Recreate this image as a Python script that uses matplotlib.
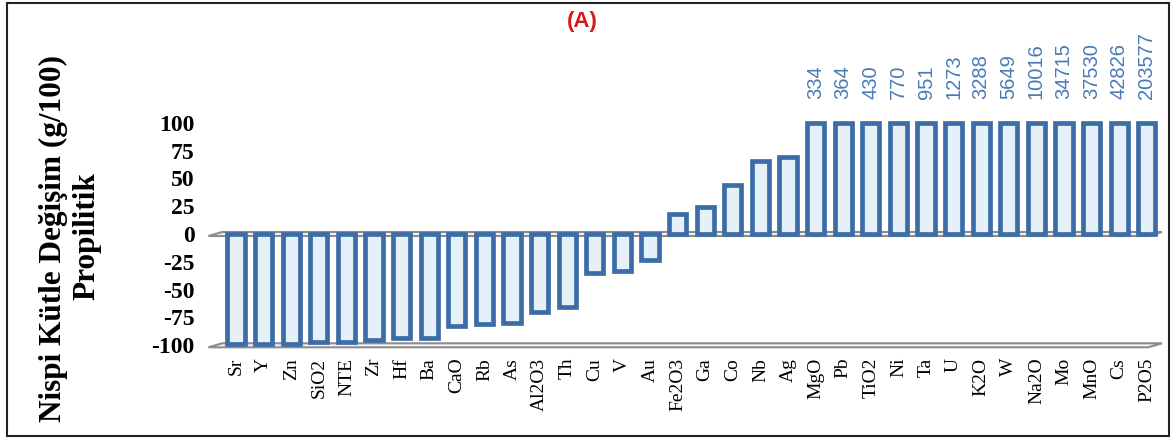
import matplotlib
matplotlib.use('Agg')
import matplotlib.pyplot as plt
from matplotlib.patches import Polygon, Rectangle

elements = ['Sr', 'Y', 'Zn', 'SiO2', 'NTE', 'Zr', 'Hf', 'Ba', 'CaO', 'Rb', 'As', 'Al2O3',
            'Th', 'Cu', 'V', 'Au', 'Fe2O3', 'Ga', 'Co', 'Nb', 'Ag', 'MgO', 'Pb', 'TiO2',
            'Ni', 'Ta', 'U', 'K2O', 'W', 'Na2O', 'Mo', 'MnO', 'Cs', 'P2O5']
change = [-99, -99, -99, -97, -97, -95, -93, -93, -83, -81, -80, -70,
          -66, -35, -33, -23, 18, 24, 44, 66, 69, 100, 100, 100,
          100, 100, 100, 100, 100, 100, 100, 100, 100, 100]
# real values of the bars that are cut at 100
over_labels = ['334', '364', '430', '770', '951', '1273', '3288', '5649',
               '10016', '34715', '37530', '42826', '203577']

W, H = 1171, 441
fig = plt.figure(figsize=(W / 100, H / 100), dpi=100)

# axes placed in pixels: x=0 -> 236px, pitch 27.6px ; y=0 -> 234px, 1.113px/unit
pitch = 27.6
x_lo, x_hi = -1.0, 33.6
left_px = 236 - pitch * (0 - x_lo)
width_px = pitch * (x_hi - x_lo)
y_lo, y_hi = -105, 105
ppu = 1.113
bottom_px = 234 + ppu * (-y_lo)
height_px = ppu * (y_hi - y_lo)
ax = fig.add_axes([left_px / W, 1 - bottom_px / H, width_px / W, height_px / H])
ax.set_xlim(x_lo, x_hi)
ax.set_ylim(y_lo, y_hi)

# floor planes at 0 and -100
for base in (0, -100):
    plane = Polygon([(-1.0, base - 1.8), (-0.5, base + 1.8), (33.55, base + 1.8), (33.05, base - 1.8)],
                    closed=True, facecolor='#f4f4f4', edgecolor='#8c8c8c', lw=1.5, zorder=1)
    ax.add_patch(plane)

xs = list(range(len(elements)))
ax.bar(xs, change, width=0.62, color='#e6f0f9', edgecolor='#3d6da6', linewidth=3.4, zorder=3)

for i, lab in enumerate(over_labels):
    xi = len(elements) - len(over_labels) + i
    ax.text(xi, 121, lab, rotation=90, ha='center', va='bottom', color='#4a7ab5',
            fontsize=14.5, family='Liberation Sans', clip_on=False)

ax.set_xticks(xs)
ax.set_xticklabels(elements, rotation=90, family='Liberation Serif', fontsize=14)
ax.set_yticks([100, 75, 50, 25, 0, -25, -50, -75, -100])
ax.set_yticklabels(['100', '75', '50', '25', '0', '-25', '-50', '-75', '-100'],
                   family='Liberation Serif', fontsize=17, fontweight='bold')
ax.tick_params(axis='both', length=0)
ax.tick_params(axis='y', pad=10)
ax.tick_params(axis='x', pad=5)
for s in ax.spines.values():
    s.set_visible(False)

fig.text(53 / W, 1 - 238 / H, 'Nispi Kütle Değişim (g/100)', rotation=90, ha='center', va='center',
         family='Liberation Serif', fontweight='bold', fontsize=22.5)
fig.text(87 / W, 1 - 236 / H, 'Propilitik', rotation=90, ha='center', va='center',
         family='Liberation Serif', fontweight='bold', fontsize=22.5)

fig.text(582 / W, 1 - 21 / H, '(A)', ha='center', va='center', color='#d7191c',
         family='Liberation Sans', fontweight='bold', fontsize=16)

# frame round the figure
fig.patches.append(Rectangle((7 / W, 1 - 436 / H), 1162 / W, 433 / H, transform=fig.transFigure,
                             fill=False, edgecolor='#222222', lw=1.5))

fig.savefig('out.png', dpi=100)
